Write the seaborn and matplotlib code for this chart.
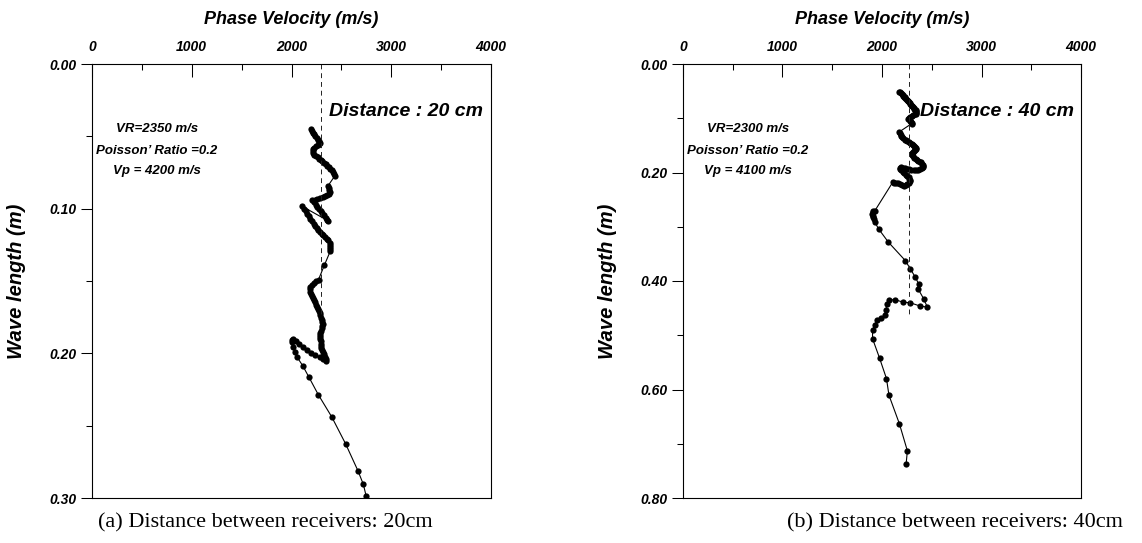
import matplotlib
matplotlib.use("Agg")
import matplotlib.pyplot as plt
import seaborn as sns
import pandas as pd
from matplotlib.ticker import MultipleLocator, FormatStrFormatter

# ---------------- data ----------------
# (a) receivers 20 cm apart: phase velocity (m/s) and wave length (m), in acquisition order
left_velocity = [
    2195, 2205, 2216, 2228, 2240, 2252, 2264, 2276, 2288, 2280, 2262, 2244, 2228, 2218, 2214, 2218,
    2230, 2246, 2262, 2278, 2294, 2310, 2326, 2342, 2358, 2374, 2390, 2404, 2418, 2430, 2436,
    2363, 2372, 2380, 2384, 2378, 2360, 2338, 2312, 2285, 2258, 2232, 2208,
    2225, 2242, 2259, 2276, 2293, 2310, 2327, 2344, 2360, 2370,
    2110, 2126, 2142, 2158, 2174, 2190, 2206, 2222, 2238, 2254, 2270, 2287,
    2303, 2320, 2337, 2354, 2370, 2382, 2388, 2390, 2389, 2388,
    2330,
    2271, 2250, 2228, 2206, 2190, 2182, 2184, 2192, 2202, 2212, 2222, 2232, 2242, 2252, 2262, 2272,
    2282, 2290, 2298, 2305, 2310, 2313, 2310, 2302, 2294, 2288, 2286, 2287, 2289, 2291, 2293, 2296,
    2300, 2306, 2314, 2324, 2334, 2342, 2345,
    2320, 2282, 2240, 2200, 2160, 2120, 2080, 2045, 2018, 2005,
    2008, 2018, 2035, 2055, 2112, 2175, 2268, 2404, 2542, 2665, 2720, 2748,
]
left_wavelength = [
    0.0450, 0.0462, 0.0474, 0.0486, 0.0498, 0.0510, 0.0522, 0.0534, 0.0546, 0.0556, 0.0563, 0.0570,
    0.0578, 0.0590, 0.0604, 0.0618, 0.0628, 0.0636, 0.0645, 0.0654, 0.0663, 0.0673, 0.0683, 0.0693,
    0.0703, 0.0713, 0.0724, 0.0735, 0.0747, 0.0760, 0.0772,
    0.0845, 0.0858, 0.0872, 0.0886, 0.0899, 0.0908, 0.0915, 0.0922, 0.0928, 0.0933, 0.0938, 0.0942,
    0.0957, 0.0972, 0.0987, 0.1002, 0.1017, 0.1032, 0.1047, 0.1062, 0.1076, 0.1085,
    0.0985, 0.1002, 0.1019, 0.1036, 0.1053, 0.1070, 0.1087, 0.1104, 0.1121, 0.1135, 0.1148, 0.1160,
    0.1172, 0.1184, 0.1196, 0.1208, 0.1220, 0.1235, 0.1250, 0.1265, 0.1280, 0.1295,
    0.1390,
    0.1490, 0.1503, 0.1516, 0.1529, 0.1543, 0.1558, 0.1573, 0.1588, 0.1603, 0.1618, 0.1633, 0.1648,
    0.1663, 0.1678, 0.1693, 0.1708, 0.1723, 0.1738, 0.1753, 0.1768, 0.1783, 0.1798, 0.1813, 0.1828,
    0.1843, 0.1858, 0.1873, 0.1888, 0.1903, 0.1918, 0.1933, 0.1948, 0.1963, 0.1978, 0.1993, 0.2008,
    0.2024, 0.2040, 0.2052,
    0.2040, 0.2028, 0.2012, 0.1995, 0.1975, 0.1955, 0.1935, 0.1915, 0.1900, 0.1905,
    0.1925, 0.1955, 0.1990, 0.2025, 0.2085, 0.2165, 0.2285, 0.2440, 0.2625, 0.2810, 0.2905, 0.2985,
]

# (b) receivers 40 cm apart
right_velocity = [
    2169, 2178, 2188, 2198, 2207, 2215, 2222, 2229, 2236, 2243, 2250, 2257, 2264, 2270, 2277, 2284,
    2291, 2297, 2304, 2311, 2318, 2325, 2332, 2338, 2343, 2346, 2345, 2340, 2330, 2315, 2298, 2280,
    2268, 2265, 2270, 2278, 2286, 2293, 2297, 2297,
    2175, 2180, 2186, 2194, 2204, 2215, 2228, 2242, 2256, 2270, 2284, 2298, 2312, 2325, 2336, 2342,
    2340, 2332, 2320, 2308, 2300, 2300, 2306, 2315, 2326, 2338, 2352, 2366, 2380, 2393, 2404, 2412,
    2415, 2410, 2398, 2382, 2362, 2340, 2318, 2296, 2274, 2252, 2230, 2208, 2188, 2176,
    2182, 2195, 2210, 2225, 2240, 2255, 2267, 2276, 2282, 2280, 2270, 2256, 2238, 2220, 2200, 2180,
    2160, 2140, 2122, 2107,
    1929, 1913, 1905, 1904, 1906, 1908, 1915, 1929, 1966, 2065, 2234, 2285, 2335, 2368, 2362, 2419,
    2455, 2385, 2285, 2211, 2134, 2067, 2050, 2038, 2034, 1990, 1950, 1925, 1905, 1905, 1975, 2045,
    2070, 2174, 2255, 2242,
]
right_wavelength = [
    0.0510, 0.0525, 0.0540, 0.0555, 0.0570, 0.0585, 0.0600, 0.0615, 0.0630, 0.0645, 0.0660, 0.0675,
    0.0690, 0.0705, 0.0720, 0.0735, 0.0750, 0.0765, 0.0780, 0.0795, 0.0810, 0.0825, 0.0840, 0.0855,
    0.0870, 0.0885, 0.0900, 0.0915, 0.0930, 0.0945, 0.0960, 0.0975, 0.0990, 0.1005, 0.1020, 0.1035,
    0.1050, 0.1065, 0.1080, 0.1100,
    0.1250, 0.1275, 0.1300, 0.1325, 0.1350, 0.1372, 0.1392, 0.1410, 0.1426, 0.1442, 0.1458, 0.1475,
    0.1493, 0.1512, 0.1532, 0.1552, 0.1572, 0.1590, 0.1608, 0.1626, 0.1645, 0.1665, 0.1685, 0.1705,
    0.1725, 0.1745, 0.1762, 0.1780, 0.1798, 0.1815, 0.1835, 0.1858, 0.1882, 0.1905, 0.1925, 0.1940,
    0.1950, 0.1955, 0.1955, 0.1950, 0.1942, 0.1932, 0.1922, 0.1912, 0.1905, 0.1908,
    0.1935, 0.1962, 0.1990, 0.2015, 0.2040, 0.2065, 0.2090, 0.2115, 0.2140, 0.2165, 0.2190, 0.2212,
    0.2230, 0.2240, 0.2228, 0.2212, 0.2200, 0.2192, 0.2186, 0.2182,
    0.2703, 0.2718, 0.2734, 0.2765, 0.2795, 0.2826, 0.2860, 0.2918, 0.3041, 0.3286, 0.3623, 0.3777,
    0.3930, 0.4052, 0.4144, 0.4328, 0.4480, 0.4463, 0.4402, 0.4390, 0.4346, 0.4346, 0.4420, 0.4543,
    0.4634, 0.4678, 0.4727, 0.4818, 0.4910, 0.5063, 0.5419, 0.5799, 0.6106, 0.6627, 0.7130, 0.7380,
]

# reference (Rayleigh) velocity lines: velocity and depth extent
left_vr_line = 2300
left_vr_extent = 0.175
right_vr_line = 2270
right_vr_extent = 0.463

x_ticks = [0, 1000, 2000, 3000, 4000]
left_y_ticks = [0.00, 0.10, 0.20, 0.30]
right_y_ticks = [0.00, 0.20, 0.40, 0.60, 0.80]

left_notes = ["VR=2350 m/s", "Poisson\u2019 Ratio =0.2", "Vp = 4200 m/s"]
right_notes = ["VR=2300 m/s", "Poisson\u2019 Ratio =0.2", "Vp = 4100 m/s"]
left_distance = "Distance : 20 cm"
right_distance = "Distance : 40 cm"
left_caption = "(a) Distance between receivers: 20cm"
right_caption = "(b) Distance between receivers: 40cm"

# ---------------- style ----------------
sns.set_style("white")
plt.rcParams["font.family"] = ["Liberation Sans", "DejaVu Sans"]
plt.rcParams["font.weight"] = "bold"
plt.rcParams["font.style"] = "italic"
for key in ["text.color", "axes.labelcolor", "xtick.color", "ytick.color", "axes.edgecolor"]:
    plt.rcParams[key] = "black"

W, H = 1142, 543
fig = plt.figure(figsize=(W / 100, H / 100), dpi=100)
ax1 = fig.add_axes([92 / W, 45 / H, 399 / W, 434 / H])
ax2 = fig.add_axes([683 / W, 45 / H, 398 / W, 434 / H])


def draw(ax, vel, wl, vr, vr_ext, ymax, yticks, yminor, notes, note_ys, dist, dist_y):
    df = pd.DataFrame({"v": vel, "wl": wl})
    sns.lineplot(data=df, x="v", y="wl", ax=ax, sort=False, estimator=None,
                 color="black", marker="o", markersize=4.5, markeredgewidth=0,
                 linewidth=0.8)
    ax.vlines(vr, 0, vr_ext, colors="#222222", linestyles=(0, (5, 4)), linewidth=0.7)
    ax.set_xlim(0, 4000)
    ax.set_ylim(ymax, 0)
    ax.xaxis.tick_top()
    ax.xaxis.set_label_position("top")
    ax.set_xticks(x_ticks)
    ax.xaxis.set_minor_locator(MultipleLocator(500))
    ax.set_yticks(yticks)
    ax.yaxis.set_minor_locator(MultipleLocator(yminor))
    ax.yaxis.set_major_formatter(FormatStrFormatter("%.2f"))
    ax.tick_params(axis="x", which="major", direction="in", length=9.5, width=0.75,
                   pad=7, labelsize=10, top=True, bottom=False, labeltop=True,
                   labelbottom=False, colors="black")
    ax.tick_params(axis="x", which="minor", direction="in", length=4.5, width=0.75,
                   top=True, bottom=False)
    ax.tick_params(axis="y", which="major", direction="out", length=8, width=0.75,
                   pad=3, labelsize=10, left=True, right=False, colors="black")
    ax.tick_params(axis="y", which="minor", direction="out", length=4.5, width=0.75,
                   left=True, right=False)
    for s in ax.spines.values():
        s.set_visible(True)
        s.set_color("black")
        s.set_linewidth(0.8)
    ax.grid(False)
    ax.set_xlabel("Phase Velocity (m/s)", fontsize=13, fontweight="bold", fontstyle="italic")
    ax.xaxis.set_label_coords(0.5, 1 + 45 / 434)
    ax.xaxis.label.set_va("center")
    ax.set_ylabel("Wave length (m)", fontsize=14.5, fontweight="bold", fontstyle="italic")
    ax.yaxis.set_label_coords(-66 / 399, 0.5)
    for t, y in zip(notes, note_ys):
        ax.text(650, y, t, ha="center", va="center", fontsize=9.5)
    ax.text(2380, dist_y, dist, ha="left", va="center", fontsize=14)


draw(ax1, left_velocity, left_wavelength, left_vr_line, left_vr_extent, 0.30,
     left_y_ticks, 0.05, left_notes, [0.045, 0.060, 0.074], left_distance, 0.033)
draw(ax2, right_velocity, right_wavelength, right_vr_line, right_vr_extent, 0.80,
     right_y_ticks, 0.10, right_notes, [0.120, 0.160, 0.197], right_distance, 0.088)

cap_font = dict(family=["Liberation Serif", "DejaVu Serif"], fontsize=16,
                fontweight="normal", fontstyle="normal", ha="center", va="center",
                color="black")
fig.text(265 / W, 1 - 523 / H, left_caption, **cap_font)
fig.text(955 / W, 1 - 523 / H, right_caption, **cap_font)

fig.savefig("out.png", dpi=100, facecolor="white")
